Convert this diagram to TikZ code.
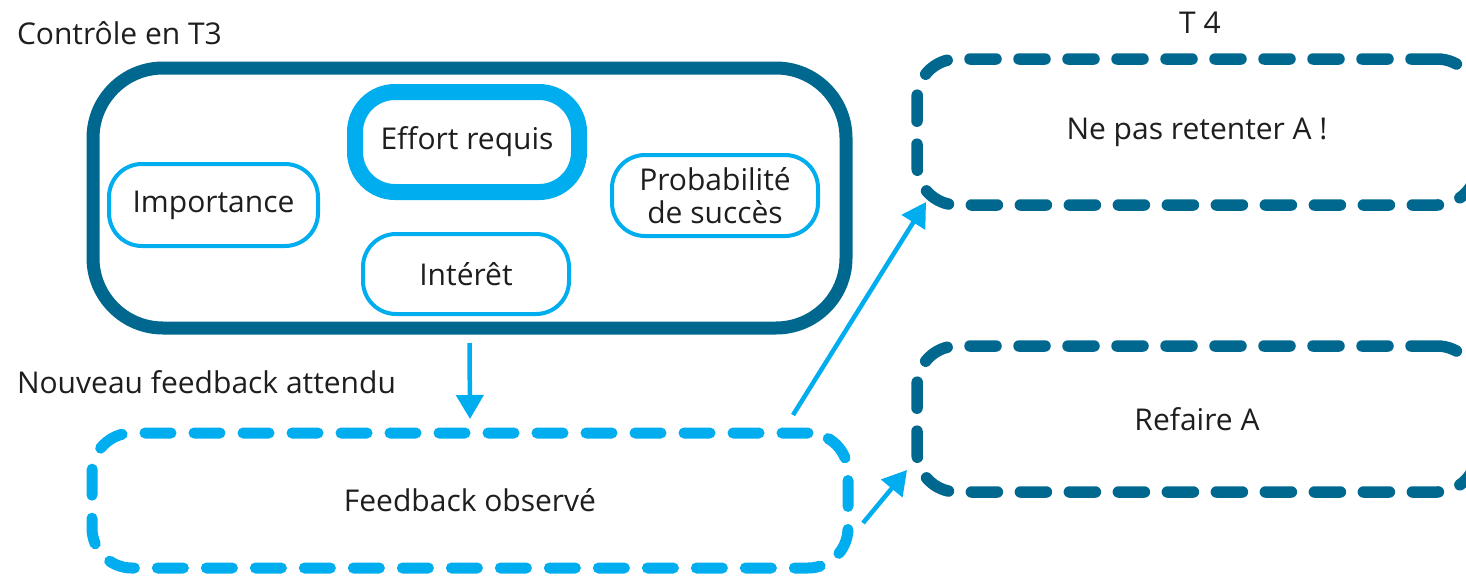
\documentclass[tikz,border=0pt]{standalone}
\usepackage{fontspec}
\setmainfont{Open Sans}
\usetikzlibrary{arrows.meta}
\definecolor{dteal}{RGB}{0,104,143}
\definecolor{lblue}{RGB}{0,174,239}
\definecolor{txtc}{RGB}{30,30,30}
\begin{document}
\begin{tikzpicture}[x=1pt,y=-1pt,
  every node/.style={font=\fontsize{30}{33}\selectfont, text=txtc, inner sep=0pt, outer sep=0pt, align=center},
  ctrlbox/.style={draw=dteal, line width=13pt, rounded corners=70pt},
  effbox/.style={draw=lblue, line width=16pt, rounded corners=40pt},
  smallbox/.style={draw=lblue, line width=4pt, rounded corners=33pt},
  dashlight/.style={draw=lblue, line width=11pt, rounded corners=40pt, dash pattern=on 26pt off 23pt, line cap=round},
  dashdark/.style={draw=dteal, line width=11.5pt, rounded corners=40pt, dash pattern=on 26pt off 23pt, line cap=round},
  arr/.style={draw=lblue, line width=4.5pt, -{Triangle[length=24pt,width=27pt]}},
  lbl/.style={anchor=west}
]
\useasboundingbox (0,0) rectangle (1466,576);
\fill[white] (0,0) rectangle (1466,576);

% labels
\node[lbl] (t3) at (17,33) {Contrôle en T3};
\node[lbl] (nfa) at (17,382) {Nouveau feedback attendu};
\node (t4) at (1200,23) {T 4};

% control box
\node[ctrlbox, minimum width=753pt, minimum height=260pt] (ctrl) at (469.5,198) {};
\node[effbox, minimum width=224pt, minimum height=100pt] (eff) at (467,142) {Effort requis};
\node[smallbox, minimum width=209pt, minimum height=82pt] (imp) at (213.5,205) {Importance};
\node[smallbox, minimum width=206pt, minimum height=81pt] (prob) at (715,195.5) {Probabilité\\de succès};
\node[smallbox, minimum width=206pt, minimum height=80pt] (int) at (466,274) {Intérêt};

% feedback box
\node[dashlight, minimum width=756pt, minimum height=135pt] (fb) at (470,500.5) {Feedback observé};

% T4 boxes
\node[dashdark, minimum width=560pt, minimum height=146pt] (ne) at (1197,132) {Ne pas retenter A !};
\node[dashdark, minimum width=560pt, minimum height=146pt] (rf) at (1197,419) {Refaire A};

% arrows
\draw[arr] ([yshift=-15pt]ctrl.south) -- ([yshift=14pt]fb.north);
\draw[arr] ([xshift=-55pt,yshift=18pt]fb.north east) -- ([xshift=9pt,yshift=3pt]ne.south west);
\draw[arr] ([xshift=15pt,yshift=-22.5pt]fb.east) -- ([xshift=-10pt,yshift=22pt]rf.south west);
\end{tikzpicture}
\end{document}
